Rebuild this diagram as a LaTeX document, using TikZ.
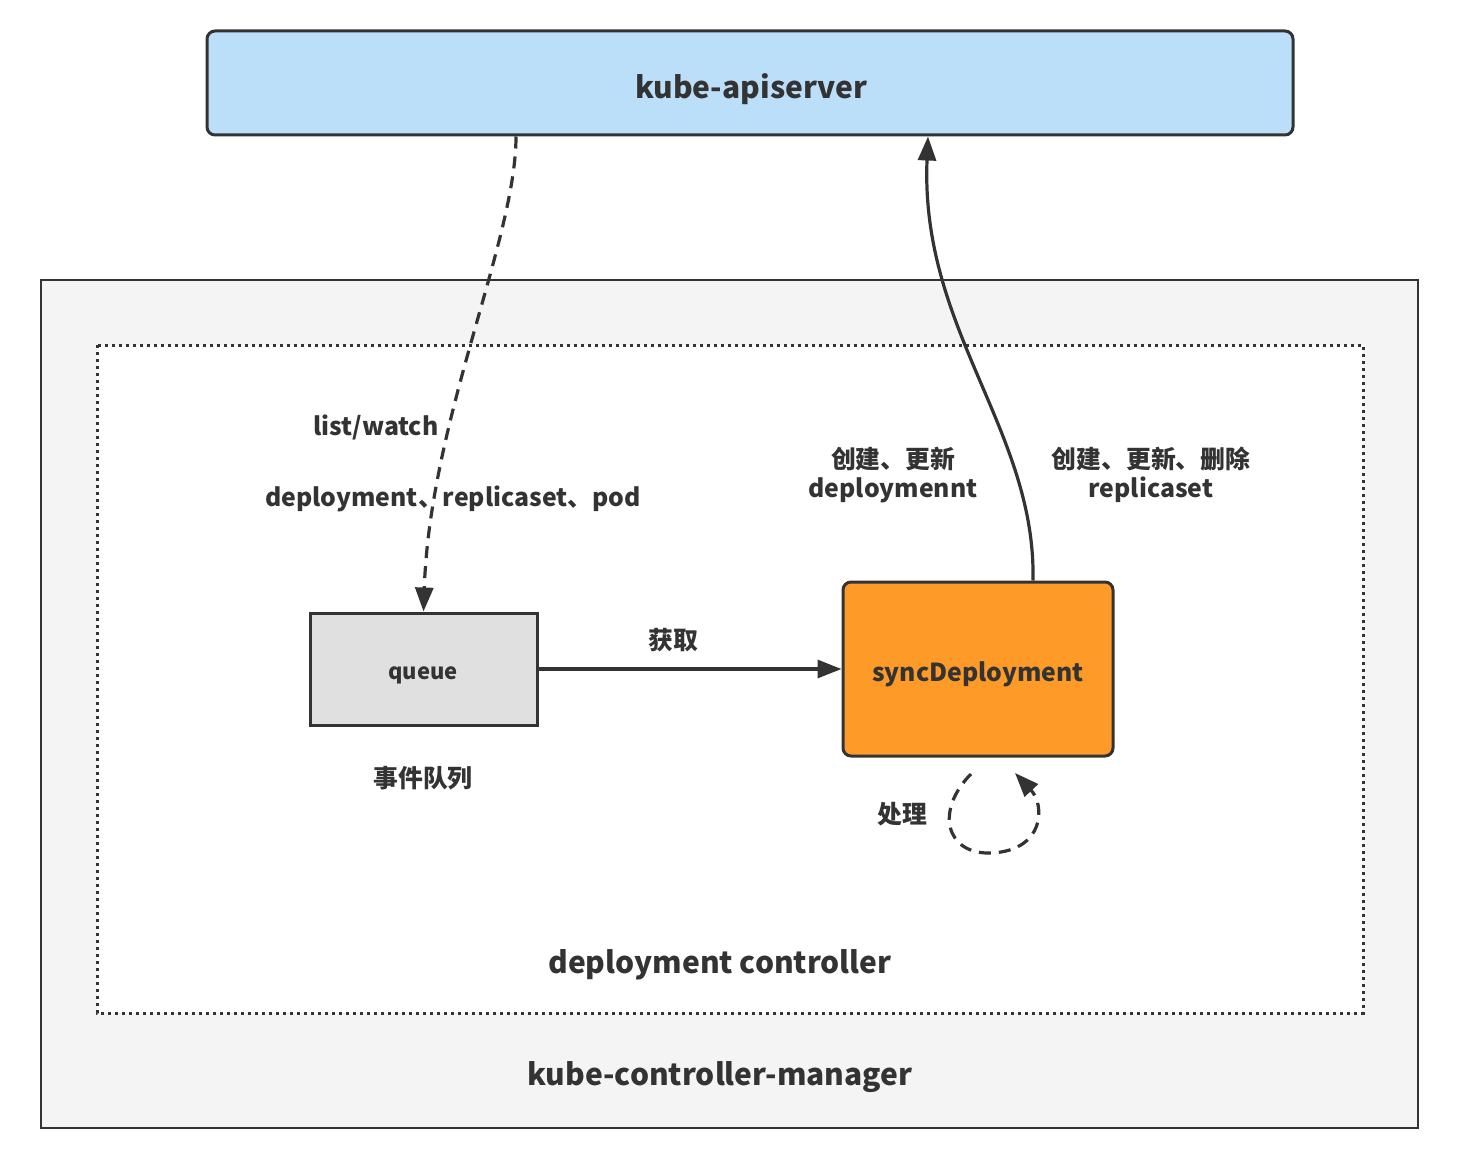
\documentclass[tikz,border=0pt]{standalone}
\usepackage{fontspec}
\setmainfont{Noto Sans CJK SC}
\usetikzlibrary{arrows.meta}
\definecolor{ink}{HTML}{333333}
\definecolor{apiblue}{HTML}{BBDEF9}
\definecolor{outergray}{HTML}{F4F4F4}
\definecolor{queuegray}{HTML}{E0E0E0}
\definecolor{syncorange}{HTML}{FD9A28}
\tikzset{
  lbl/.style={text=ink, font=\fontsize{12.4}{14.5}\selectfont\bfseries, align=center, inner sep=0pt},
  big/.style={text=ink, font=\fontsize{15}{18}\selectfont\bfseries, inner sep=0pt},
  conn/.style={draw=ink, line width=1.6pt, -{Triangle[length=12pt,width=9pt]}},
  dashconn/.style={conn, dash pattern=on 6pt off 4pt},
}
\begin{document}
\begin{tikzpicture}[x=0.5pt,y=-0.5pt]
\useasboundingbox (0,0) rectangle (1463,1161);
% outer manager box
\draw[draw=ink, line width=1pt, fill=outergray] (41,280) rectangle (1418,1128);
\coordinate (mgr) at (720,1077);
% dotted controller box
\draw[draw=ink, line width=1.5pt, dash pattern=on 1.5pt off 2pt, fill=white] (97,345) rectangle (1363,1013);
% api server
\node[draw=ink, line width=1.5pt, fill=apiblue, rounded corners=4pt, minimum width=543pt, minimum height=52pt, inner sep=0pt] (api) at (750,83) {};
\node[big] (apitxt) at (751,89) {kube-apiserver};
% queue
\node[draw=ink, line width=1.5pt, fill=queuegray, minimum width=113.5pt, minimum height=56pt, inner sep=0pt] (queue) at (423.5,669) {};
\node[text=ink, font=\fontsize{11}{13}\selectfont\bfseries, inner sep=0pt] (queuetxt) at (423,675) {queue};
% syncDeployment
\node[draw=ink, line width=1.5pt, fill=syncorange, rounded corners=4pt, minimum width=135pt, minimum height=87pt, inner sep=0pt] (sync) at (978,669) {};
\node[text=ink, font=\fontsize{12.4}{15}\selectfont\bfseries, inner sep=0pt] (synctxt) at (978,674) {syncDeployment};
% labels
\node[big] (mgrtxt) at (mgr) {kube-controller-manager};
\node[big] (ctrltxt) at (720,965) {deployment controller};
\node[lbl] (lw) at (376,427) {list/watch};
\node[lbl] (objs) at (453,499) {deployment、replicaset、pod};
\node[lbl] (dep) at (893,475) {创建、更新\\deploymennt};
\node[lbl] (rs) at (1151,475) {创建、更新、删除\\replicaset};
\node[lbl] (get) at (673,640) {获取};
\node[lbl] (evq) at (423,778) {事件队列};
\node[lbl] (proc) at (902,814) {处理};
% connectors
\draw[dashconn] (api.south -| 516,0) .. controls (516,240) and (430,420) .. (queue.north);
\draw[conn] (sync.north -| 1033,0) .. controls (1036,430) and (920,330) .. (api.south -| 928,0);
\draw[conn] (queue.east) -- (sync.west);
\coordinate (loopstart) at (971,774);
\coordinate (loopend) at (1015,773);
\draw[dashconn] (loopstart) .. controls (935,810) and (945,855) .. (992,853)
  .. controls (1045,850) and (1045,805) .. (loopend);
\end{tikzpicture}
\end{document}
